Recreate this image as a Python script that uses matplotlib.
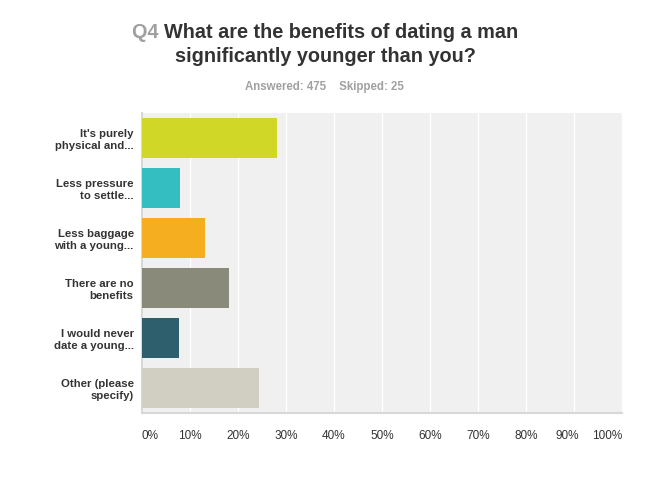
import matplotlib
matplotlib.use("Agg")
import matplotlib.pyplot as plt
from matplotlib.ticker import FixedLocator
from matplotlib.transforms import ScaledTranslation

categories = ["It's purely\nphysical and...", "Less pressure\nto settle...", "Less baggage\nwith a young...",
              "There are no\nbenefits", "I would never\ndate a young...", "Other (please\nspecify)"]
values = [28.2, 8.0, 13.1, 18.1, 7.8, 24.4]
colors = ["#D0D727", "#35BEC1", "#F6AE21", "#8A8A7B", "#2D5F6C", "#D0CFC2"]
xticks = [0, 10, 20, 30, 40, 50, 60, 70, 80, 90, 100]
xticklabels = ["0%", "10%", "20%", "30%", "40%", "50%", "60%", "70%", "80%", "90%", "100%"]

plt.rcParams['font.family'] = ['Liberation Sans', 'DejaVu Sans']

fig = plt.figure(figsize=(6.5, 4.87), dpi=100)
ax = fig.add_axes([142/650, 1-413/487, 480/650, 300/487])
ax.set_facecolor("#F0F0F0")

y = list(range(len(categories)))
ax.barh(y, values, height=0.8, color=colors, zorder=3)
ax.set_ylim(len(categories)-0.5, -0.5)
ax.set_xlim(0, 100)
ax.xaxis.set_major_locator(FixedLocator(xticks))
ax.set_xticklabels(xticklabels, fontsize=8.5, color="#333333")
ax.set_yticks(y)
ax.set_yticklabels(categories, fontsize=8.2, fontweight='bold', color="#333333", linespacing=1.3)
ax.tick_params(axis='both', length=0)
ax.tick_params(axis='x', pad=12)
ax.tick_params(axis='y', pad=6)
ax.grid(axis='x', color='white', linewidth=1, zorder=1)
for s in ['top', 'right']:
    ax.spines[s].set_visible(False)
ax.spines['left'].set_color('#D8D8D8')
ax.spines['bottom'].set_color('#D8D8D8')
ax.spines['left'].set_linewidth(1.5)
ax.spines['bottom'].set_linewidth(1.5)

# shift end labels inward like the reference
labels = ax.get_xticklabels()
labels[0].set_horizontalalignment('left')
labels[-1].set_horizontalalignment('right')
labels[-2].set_transform(labels[-2].get_transform() + ScaledTranslation(-7/100, 0, fig.dpi_scale_trans))

# Title with gray "Q4"
renderer = fig.canvas.get_renderer()
fs = 14.3
t1 = fig.text(0, 0, "Q4 ", fontsize=fs, fontweight='bold', color="#A0A0A0")
t2 = fig.text(0, 0, "What are the benefits of dating a man", fontsize=fs, fontweight='bold', color="#333333")
w1 = t1.get_window_extent(renderer).width
w2 = t2.get_window_extent(renderer).width
total = w1 + w2
x0 = 325 - total/2
ytop = 1 - 32/487
t1.set_position((x0/650, ytop)); t1.set_va('center')
t2.set_position(((x0 + w1)/650, ytop)); t2.set_va('center')
fig.text(325/650, 1 - 57/487, "significantly younger than you?", fontsize=fs, fontweight='bold',
         color="#333333", ha='center', va='center')
fig.text(324/650, 1 - 87/487, "Answered: 475    Skipped: 25", fontsize=8.3, fontweight='bold',
         color="#A0A0A0", ha='center', va='center')

fig.savefig("out.png", dpi=100, facecolor='white')
